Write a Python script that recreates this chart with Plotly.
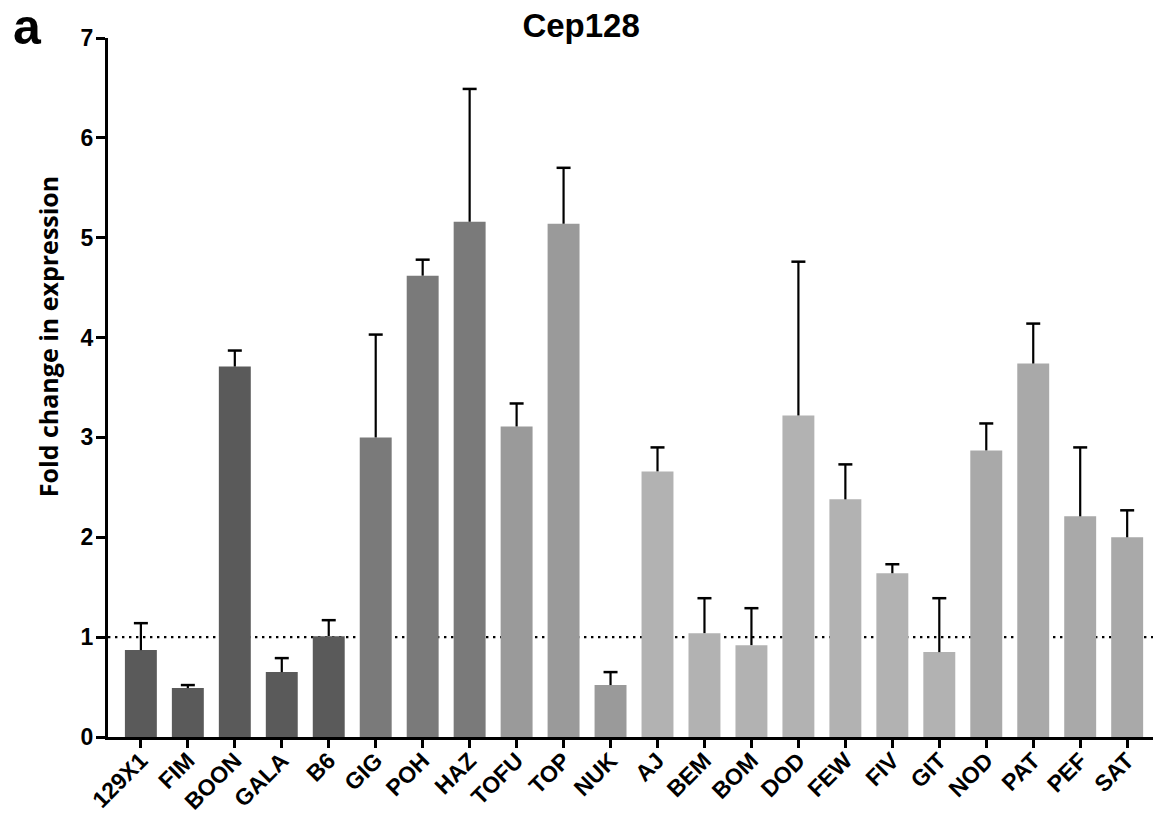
import plotly.graph_objects as go

strains = ["129X1", "FIM", "BOON", "GALA", "B6", "GIG", "POH", "HAZ", "TOFU", "TOP", "NUK",
           "AJ", "BEM", "BOM", "DOD", "FEW", "FIV", "GIT", "NOD", "PAT", "PEF", "SAT"]
fold_change = [0.87, 0.49, 3.71, 0.65, 1.01, 3.00, 4.62, 5.16, 3.11, 5.14, 0.52,
               2.66, 1.04, 0.92, 3.22, 2.38, 1.64, 0.85, 2.87, 3.74, 2.21, 2.00]
sem = [0.27, 0.03, 0.16, 0.14, 0.16, 1.03, 0.16, 1.33, 0.23, 0.56, 0.13,
       0.24, 0.35, 0.37, 1.54, 0.35, 0.09, 0.54, 0.27, 0.40, 0.69, 0.27]
groups = ["g1"] * 5 + ["g2"] * 3 + ["g3"] * 3 + ["g4"] * 7 + ["g5"] * 4
group_colors = {"g1": "#5a5a5a", "g2": "#7a7a7a", "g3": "#9a9a9a", "g4": "#b2b2b2", "g5": "#a9a9a9"}
y_ticks = [0, 1, 2, 3, 4, 5, 6, 7]
reference_level = 1

bar_colors = [group_colors[g] for g in groups]
err_top = [v + e for v, e in zip(fold_change, sem)]
xidx = list(range(len(strains)))

fig = go.Figure()
fig.add_trace(go.Bar(
    x=xidx, y=fold_change, marker=dict(color=bar_colors, line=dict(width=0)),
    error_y=dict(type="data", symmetric=False, array=sem, arrayminus=[0] * len(sem),
                 width=0, thickness=2.2, color="black"),
    showlegend=False,
))
fig.add_trace(go.Scatter(
    x=xidx, y=err_top, mode="markers",
    marker=dict(symbol="line-ew", size=10, line=dict(width=2.5, color="black")),
    showlegend=False, hoverinfo="skip",
))

fig.add_shape(type="line", xref="paper", yref="y", x0=0, x1=1,
              y0=reference_level, y1=reference_level,
              line=dict(color="black", width=2.4, dash="2.4px,4.6px"), layer="below")

fig.update_layout(
    width=1153, height=815,
    margin=dict(l=108, r=0, t=38, b=78),
    paper_bgcolor="white", plot_bgcolor="white",
    bargap=0.32,
    title=dict(text="<b>Cep128</b>", x=0.504, xanchor="center", y=0.969, yanchor="middle",
               automargin=False,
               font=dict(family="Liberation Sans", size=33, color="black")),
    xaxis=dict(
        tickmode="array", tickvals=xidx, ticktext=["<b>%s</b>" % s for s in strains],
        range=[-0.7, 21.55], tickangle=-45, automargin=False, ticklabelstandoff=-10,
        tickfont=dict(family="Liberation Sans", size=23, color="black"),
        showline=True, linecolor="black", linewidth=3, ticks="outside", ticklen=8, tickwidth=3,
        tickcolor="black", showgrid=False, zeroline=False,
    ),
    yaxis=dict(
        range=[0, 7], tickvals=y_ticks, ticktext=["<b>%d</b>" % t for t in y_ticks],
        automargin=False, ticklabelstandoff=-2,
        tickfont=dict(family="Liberation Sans", size=23, color="black"),
        showline=True, linecolor="black", linewidth=3, ticks="outside", ticklen=9, tickwidth=3,
        tickcolor="black", showgrid=False, zeroline=False,
    ),
    annotations=[
        dict(text="<b>a</b>", xref="paper", yref="paper", x=-0.0766, y=1.0157,
             xanchor="center", yanchor="middle", showarrow=False,
             font=dict(family="Liberation Sans", size=50, color="black")),
        dict(text="<b>Fold change in expression</b>", xref="paper", yref="paper",
             x=-0.0574, y=0.572, xanchor="center", yanchor="middle", textangle=-90,
             showarrow=False, font=dict(family="Open Sans", size=25, color="black")),
    ],
)

fig.write_html("out.html", config={"displayModeBar": False},
               post_script="document.body.style.margin='0';")
